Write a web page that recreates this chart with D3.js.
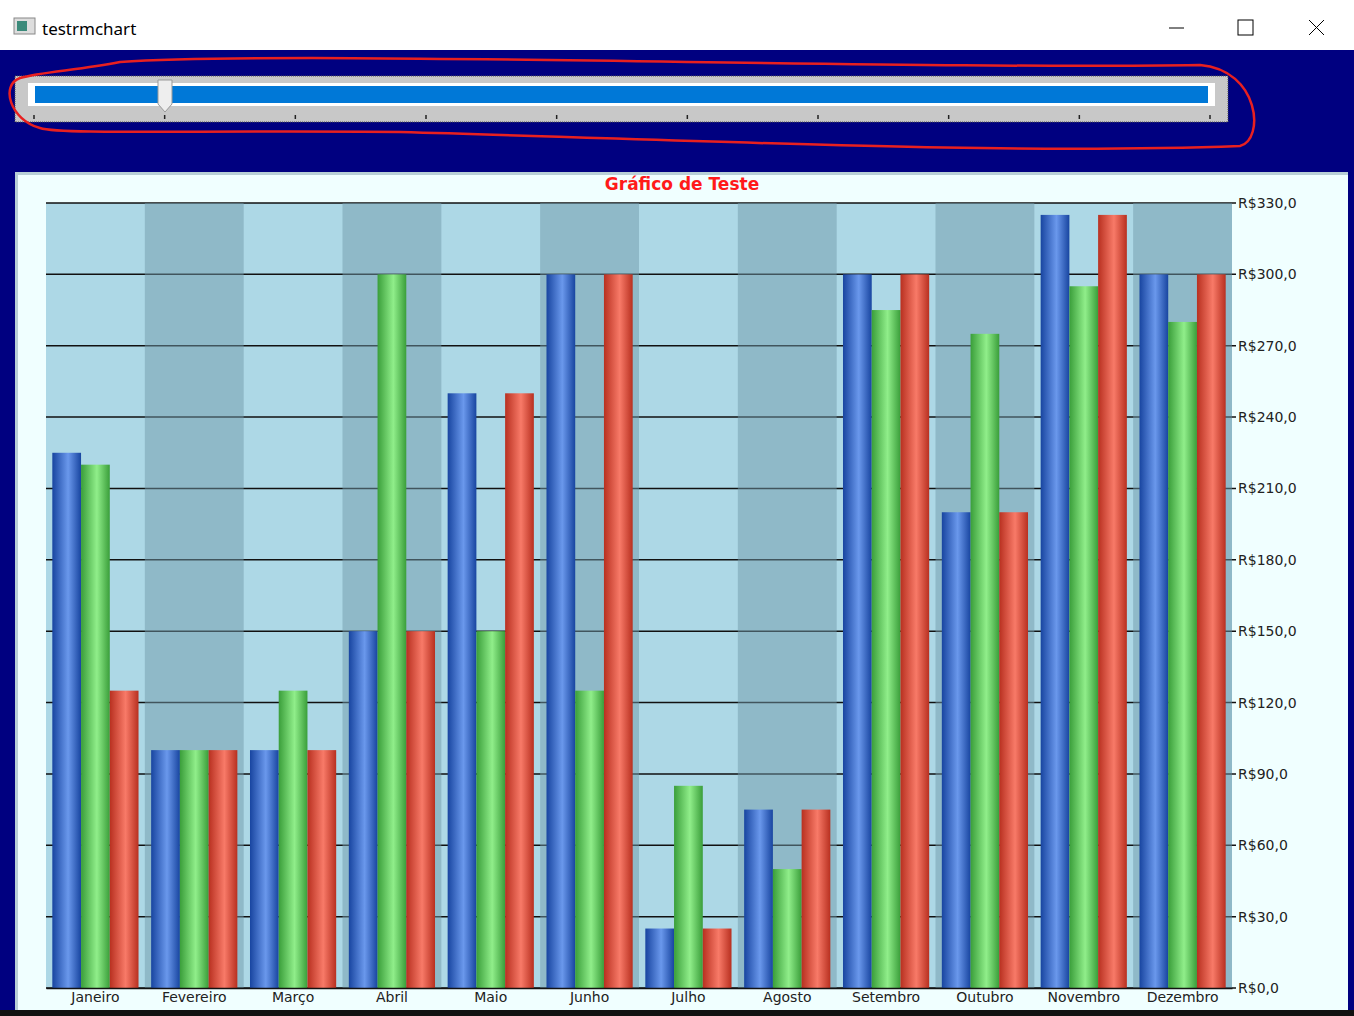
<!DOCTYPE html>
<html>
<head>
<meta charset="utf-8">
<script src="https://cdn.jsdelivr.net/npm/d3@7"></script>
<style>
  body { margin: 0; background: #000; overflow: hidden; }
  svg { display: block; }
</style>
</head>
<body>
<svg width="1354" height="1016"></svg>
<script>
// chart data
let months = ["Janeiro", "Fevereiro", "Março", "Abril", "Maio", "Junho", "Julho", "Agosto", "Setembro", "Outubro", "Novembro", "Dezembro"];
let seriesBlue = [225, 100, 100, 150, 250, 300, 25, 75, 300, 200, 325, 300];
let seriesGreen = [220, 100, 125, 300, 150, 125, 85, 50, 285, 275, 295, 280];
let seriesRed = [125, 100, 100, 150, 250, 300, 25, 75, 300, 200, 325, 300];
let yTicks = [0, 30, 60, 90, 120, 150, 180, 210, 240, 270, 300, 330];
let sliderTicks = [0, 1, 2, 3, 4, 5, 6, 7, 8, 9];

let svg = d3.select("svg");

// window chrome
svg.append("rect").attr("x", 0).attr("y", 0).attr("width", 1354).attr("height", 1016).attr("fill", "#000080");
svg.append("rect").attr("x", 0).attr("y", 0).attr("width", 1354).attr("height", 50).attr("fill", "#fff");
svg.append("rect").attr("x", 0).attr("y", 1010).attr("width", 1354).attr("height", 6).attr("fill", "#111");
let icon = svg.append("g").attr("transform", "translate(14,18)");
icon.append("rect").attr("width", 21).attr("height", 16).attr("fill", "#ddd").attr("stroke", "#888");
icon.append("rect").attr("x", 3).attr("y", 3).attr("width", 10).attr("height", 10).attr("fill", "#3b8a7a");
svg.append("text").attr("x", 42).attr("y", 35).text("testrmchart")
  .attr("font-family", "Segoe UI, Noto Sans, sans-serif").attr("font-size", 17).attr("fill", "#000");
svg.append("line").attr("x1", 1169).attr("x2", 1184).attr("y1", 28).attr("y2", 28).attr("stroke", "#000");
svg.append("rect").attr("x", 1238).attr("y", 20).attr("width", 15).attr("height", 15).attr("fill", "none").attr("stroke", "#000");
svg.append("path").attr("d", "M1309,20L1324,35M1324,20L1309,35").attr("stroke", "#000");

// slider
let sx = d3.scaleLinear().domain([0, 9]).range([34, 1210]);
svg.append("rect").attr("x", 15).attr("y", 76).attr("width", 1213).attr("height", 46)
  .attr("fill", "#c8c8c8").attr("stroke", "#555").attr("stroke-dasharray", "1,1");
svg.append("rect").attr("x", 28).attr("y", 83).attr("width", 1187).attr("height", 23).attr("fill", "#fff");
svg.append("rect").attr("x", 35).attr("y", 86).attr("width", 1173).attr("height", 17).attr("fill", "#0078d7");
svg.selectAll(".stick").data(sliderTicks).enter().append("line")
  .attr("x1", d => sx(d)).attr("x2", d => sx(d)).attr("y1", 115).attr("y2", 119)
  .attr("stroke", "#222").attr("stroke-width", 1.5);
svg.append("path").attr("d", "M158,80H172V104L165,112L158,104Z").attr("fill", "#eee").attr("stroke", "#999");
svg.append("path")
  .attr("d", "M120,62 C300,50 900,70 1200,65 C1260,70 1265,140 1240,146 C1000,155 700,140 400,132 C200,130 60,135 40,128 C10,120 0,85 20,78 C40,72 80,70 120,62 Z")
  .attr("fill", "none").attr("stroke", "#e82020").attr("stroke-width", 2.5);

// chart panel
svg.append("rect").attr("x", 15).attr("y", 172).attr("width", 1333).attr("height", 838).attr("fill", "#f0ffff");
svg.append("rect").attr("x", 15).attr("y", 172).attr("width", 1333).attr("height", 3).attr("fill", "#b8cfd6");
svg.append("rect").attr("x", 15).attr("y", 172).attr("width", 3).attr("height", 838).attr("fill", "#b8cfd6");

let margin = { left: 46, right: 1232, top: 203, bottom: 988 };
let x = d3.scaleBand().domain(months).range([margin.left, margin.right]).paddingInner(0).paddingOuter(0);
let y = d3.scaleLinear().domain([0, 330]).range([margin.bottom, margin.top]);
let inner = d3.scaleBand().domain([0, 1, 2]).range([0, x.bandwidth()]).paddingOuter(0.22).paddingInner(0);

let g = svg.append("g");
g.append("rect").attr("x", margin.left).attr("y", margin.top)
  .attr("width", margin.right - margin.left).attr("height", margin.bottom - margin.top).attr("fill", "#add8e6");

// grid lines
g.selectAll(".grid").data(yTicks).enter().append("line")
  .attr("x1", margin.left).attr("x2", margin.right + 4)
  .attr("y1", d => y(d)).attr("y2", d => y(d))
  .attr("stroke", "#111").attr("stroke-width", 1.5);

// alternating darker bands drawn over grid
g.selectAll(".band").data(months.filter((m, i) => i % 2 === 1)).enter().append("rect")
  .attr("x", d => x(d)).attr("y", margin.top)
  .attr("width", x.bandwidth()).attr("height", margin.bottom - margin.top)
  .attr("fill", "rgb(113,154,170)").attr("opacity", 0.5);

// gradients
let defs = svg.append("defs");
let grads = [
  ["gBlue", "#1845a0", "#6a98ec"],
  ["gGreen", "#3a9e3a", "#90ee8a"],
  ["gRed", "#b83020", "#f87a68"]
];
grads.forEach(gr => {
  let lg = defs.append("linearGradient").attr("id", gr[0]).attr("x1", "0%").attr("x2", "100%");
  lg.append("stop").attr("offset", "0%").attr("stop-color", gr[1]);
  lg.append("stop").attr("offset", "55%").attr("stop-color", gr[2]);
  lg.append("stop").attr("offset", "100%").attr("stop-color", gr[1]);
});

let series = [seriesBlue, seriesGreen, seriesRed];
series.forEach((vals, si) => {
  g.selectAll(".bar" + si).data(vals).enter().append("rect")
    .attr("x", (d, i) => x(months[i]) + inner(si))
    .attr("width", inner.bandwidth())
    .attr("y", d => y(d))
    .attr("height", d => y(0) - y(d))
    .attr("fill", "url(#" + grads[si][0] + ")");
});

// axes
let font = "Verdana, DejaVu Sans, sans-serif";
let yAxis = d3.axisRight(y).tickValues(yTicks).tickSize(0).tickPadding(6)
  .tickFormat(d => "R$" + d3.format(".1f")(d).replace(".", ","));
let ya = svg.append("g").attr("transform", "translate(" + margin.right + ",0)").call(yAxis);
ya.select(".domain").remove();
ya.selectAll("text").attr("font-family", font).attr("font-size", 14).attr("fill", "#222");

let xAxis = d3.axisBottom(x).tickSize(0).tickPadding(4);
let xa = svg.append("g").attr("transform", "translate(0," + margin.bottom + ")").call(xAxis);
xa.select(".domain").attr("stroke", "#111").attr("stroke-width", 1.5);
xa.selectAll("text").attr("font-family", font).attr("font-size", 14).attr("fill", "#222");

svg.append("text").attr("x", 682).attr("y", 190).attr("text-anchor", "middle")
  .attr("font-family", font).attr("font-size", 17).attr("font-weight", "bold").attr("fill", "#ff1a1a")
  .text("Gráfico de Teste");
</script>
</body>
</html>
